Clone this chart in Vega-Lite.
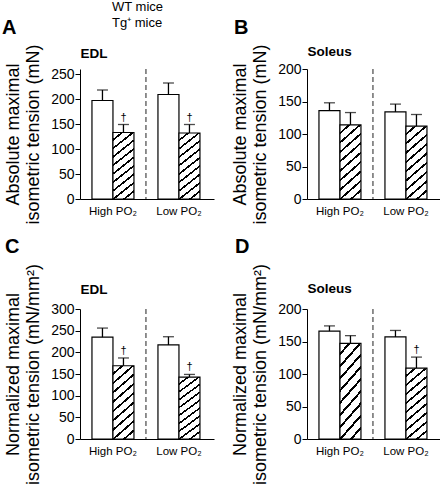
{
  "$schema": "https://vega.github.io/schema/vega-lite/v6.json",
  "padding": {"left": 2, "top": 0, "right": 0, "bottom": 0},
  "columns": 2,
  "bounds": "flush",
  "spacing": {"row": 110, "column": 93},
  "data": {"values": [
    {"panel": "A", "cond": "High PO₂", "geno": "WT mice", "value": 197, "err": 218, "sig": ""},
    {"panel": "A", "cond": "High PO₂", "geno": "Tg⁺ mice", "value": 133, "err": 149, "sig": "†"},
    {"panel": "A", "cond": "Low PO₂", "geno": "WT mice", "value": 209, "err": 232, "sig": ""},
    {"panel": "A", "cond": "Low PO₂", "geno": "Tg⁺ mice", "value": 132, "err": 149, "sig": "†"},
    {"panel": "B", "cond": "High PO₂", "geno": "WT mice", "value": 136, "err": 148, "sig": ""},
    {"panel": "B", "cond": "High PO₂", "geno": "Tg⁺ mice", "value": 114, "err": 133, "sig": ""},
    {"panel": "B", "cond": "Low PO₂", "geno": "WT mice", "value": 134, "err": 146, "sig": ""},
    {"panel": "B", "cond": "Low PO₂", "geno": "Tg⁺ mice", "value": 112, "err": 130, "sig": ""},
    {"panel": "C", "cond": "High PO₂", "geno": "WT mice", "value": 235, "err": 256, "sig": ""},
    {"panel": "C", "cond": "High PO₂", "geno": "Tg⁺ mice", "value": 169, "err": 187, "sig": "†"},
    {"panel": "C", "cond": "Low PO₂", "geno": "WT mice", "value": 217, "err": 236, "sig": ""},
    {"panel": "C", "cond": "Low PO₂", "geno": "Tg⁺ mice", "value": 143, "err": 149, "sig": "†"},
    {"panel": "D", "cond": "High PO₂", "geno": "WT mice", "value": 166, "err": 174, "sig": ""},
    {"panel": "D", "cond": "High PO₂", "geno": "Tg⁺ mice", "value": 147, "err": 159, "sig": ""},
    {"panel": "D", "cond": "Low PO₂", "geno": "WT mice", "value": 157, "err": 167, "sig": ""},
    {"panel": "D", "cond": "Low PO₂", "geno": "Tg⁺ mice", "value": 109, "err": 126, "sig": "†"}
  ]},
  "concat": [
    {
      "title": {"text": "A", "anchor": "start", "frame": "group", "dx": -78, "offset": 6, "fontSize": 20, "fontWeight": "bold"},
      "width": 134, "height": 130,
      "transform": [{"filter": "datum.panel === 'A'"}],
      "resolve": {"axis": {"x": "independent"}},
      "layer": [
        {"data": {"values": [{"line": "separator"}]},
         "mark": {"type": "rule", "strokeDash": [5, 3], "color": "#222", "strokeWidth": 1},
         "encoding": {"x": {"datum": "Low PO₂", "type": "nominal", "bandPosition": -0.2857,
           "axis": {"orient": "top", "domain": false, "ticks": false, "labels": false, "title": "EDL", "titleAnchor": "start", "titleFontSize": 13.5, "titleFontWeight": "bold", "titlePadding": 9}}}},
        {"mark": {"type": "point", "filled": true, "fill": "white", "stroke": "black", "strokeWidth": 1, "size": 30, "yOffset": 25},
         "encoding": {
           "x": {"field": "cond", "type": "nominal", "axis": null},
           "xOffset": {"field": "geno", "type": "nominal"},
           "y": {"field": "value", "type": "quantitative"},
           "shape": {"field": "geno", "type": "nominal", "scale": {"domain": ["WT mice", "Tg⁺ mice"], "range": ["M-3.375,-1L3.375,-1L3.375,1L-3.375,1Z", "M-3.375,-1L3.375,-1L3.375,1L-3.375,1Z M-3.375,0.6L-1.775,-1 M-2.175,1L-0.175,-1 M-0.575,1L1.425,-1 M1.025,1L3.025,-1 M2.625,1L3.375,0.25"]},
             "legend": {"orient": "none", "legendX": 8, "legendY": -68.5, "title": null, "symbolSize": 64, "symbolOpacity": 1, "symbolFillColor": "white", "symbolStrokeColor": "black", "symbolStrokeWidth": 1, "labelFontSize": 13, "labelOffset": 11, "rowPadding": 2, "padding": 0}}
         }},
        {"transform": [{"filter": "datum.geno === 'WT mice'"}],
         "mark": {"type": "bar", "stroke": "black", "strokeWidth": 1.2, "fill": "white"},
         "encoding": {
           "x": {"field": "cond", "type": "nominal", "scale": {"paddingInner": 0.3636, "paddingOuter": 0.197, "align": 0.46}, "axis": {"title": null, "labelAngle": 0, "tickSize": 0, "labelPadding": 6, "labelFontSize": 11.5}},
           "xOffset": {"field": "geno", "type": "nominal", "scale": {"domain": ["WT mice", "Tg⁺ mice"]}},
           "y": {"field": "value", "type": "quantitative", "scale": {"domain": [0, 250]}, "axis": {"title": ["Absolute maximal", "isometric tension (mN)"]}}
         }},
        {"transform": [{"filter": "datum.geno === 'Tg⁺ mice'"}],
         "mark": {"type": "bar", "stroke": "black", "strokeWidth": 1.2, "fill": {"gradient": "linear", "x1": 0, "y1": 0, "x2": 0.3, "y2": 1.2, "stops": [
           {"offset": 0, "color": "white"}, {"offset": 0.075, "color": "white"}, {"offset": 0.075, "color": "black"}, {"offset": 0.1, "color": "black"},
           {"offset": 0.1, "color": "white"}, {"offset": 0.175, "color": "white"}, {"offset": 0.175, "color": "black"}, {"offset": 0.2, "color": "black"},
           {"offset": 0.2, "color": "white"}, {"offset": 0.275, "color": "white"}, {"offset": 0.275, "color": "black"}, {"offset": 0.3, "color": "black"},
           {"offset": 0.3, "color": "white"}, {"offset": 0.375, "color": "white"}, {"offset": 0.375, "color": "black"}, {"offset": 0.4, "color": "black"},
           {"offset": 0.4, "color": "white"}, {"offset": 0.475, "color": "white"}, {"offset": 0.475, "color": "black"}, {"offset": 0.5, "color": "black"},
           {"offset": 0.5, "color": "white"}, {"offset": 0.575, "color": "white"}, {"offset": 0.575, "color": "black"}, {"offset": 0.6, "color": "black"},
           {"offset": 0.6, "color": "white"}, {"offset": 0.675, "color": "white"}, {"offset": 0.675, "color": "black"}, {"offset": 0.7, "color": "black"},
           {"offset": 0.7, "color": "white"}, {"offset": 0.775, "color": "white"}, {"offset": 0.775, "color": "black"}, {"offset": 0.8, "color": "black"},
           {"offset": 0.8, "color": "white"}, {"offset": 0.875, "color": "white"}, {"offset": 0.875, "color": "black"}, {"offset": 0.9, "color": "black"},
           {"offset": 0.9, "color": "white"}, {"offset": 0.975, "color": "white"}, {"offset": 0.975, "color": "black"}, {"offset": 1, "color": "black"}]}},
         "encoding": {
           "x": {"field": "cond", "type": "nominal", "axis": null},
           "xOffset": {"field": "geno", "type": "nominal", "scale": {"domain": ["WT mice", "Tg⁺ mice"]}},
           "y": {"field": "value", "type": "quantitative"}
         }},
        {"mark": {"type": "rule", "strokeWidth": 1.3, "color": "black"},
         "encoding": {"x": {"field": "cond", "type": "nominal", "axis": null}, "xOffset": {"field": "geno", "type": "nominal"}, "y": {"field": "value", "type": "quantitative"}, "y2": {"field": "err"}}},
        {"mark": {"type": "tick", "thickness": 1.3, "size": 11, "color": "black"},
         "encoding": {"x": {"field": "cond", "type": "nominal", "axis": null}, "xOffset": {"field": "geno", "type": "nominal"}, "y": {"field": "err", "type": "quantitative"}}},
        {"mark": {"type": "text", "fontSize": 11, "baseline": "alphabetic", "dy": -4, "color": "black"},
         "encoding": {"x": {"field": "cond", "type": "nominal", "axis": null}, "xOffset": {"field": "geno", "type": "nominal"}, "y": {"field": "err", "type": "quantitative"}, "text": {"field": "sig"}}}
      ]
    },
    {
      "title": {"text": "B", "anchor": "start", "frame": "group", "dx": -73, "offset": 6, "fontSize": 20, "fontWeight": "bold"},
      "width": 134, "height": 130,
      "transform": [{"filter": "datum.panel === 'B'"}],
      "resolve": {"axis": {"x": "independent"}},
      "layer": [
        {"data": {"values": [{"line": "separator"}]},
         "mark": {"type": "rule", "strokeDash": [5, 3], "color": "#222", "strokeWidth": 1},
         "encoding": {"x": {"datum": "Low PO₂", "type": "nominal", "bandPosition": -0.2857,
           "axis": {"orient": "top", "domain": false, "ticks": false, "labels": false, "title": "Soleus", "titleAnchor": "start", "titleFontSize": 13.5, "titleFontWeight": "bold", "titlePadding": 11}}}},
        {"transform": [{"filter": "datum.geno === 'WT mice'"}],
         "mark": {"type": "bar", "stroke": "black", "strokeWidth": 1.2, "fill": "white"},
         "encoding": {
           "x": {"field": "cond", "type": "nominal", "scale": {"paddingInner": 0.3636, "paddingOuter": 0.197, "align": 0.46}, "axis": {"title": null, "labelAngle": 0, "tickSize": 0, "labelPadding": 6, "labelFontSize": 11.5}},
           "xOffset": {"field": "geno", "type": "nominal", "scale": {"domain": ["WT mice", "Tg⁺ mice"]}},
           "y": {"field": "value", "type": "quantitative", "scale": {"domain": [0, 200]}, "axis": {"title": ["Absolute maximal", "isometric tension (mN)"]}}
         }},
        {"transform": [{"filter": "datum.geno === 'Tg⁺ mice'"}],
         "mark": {"type": "bar", "stroke": "black", "strokeWidth": 1.2, "fill": {"gradient": "linear", "x1": 0, "y1": 0, "x2": 0.3, "y2": 1.2, "stops": [
           {"offset": 0, "color": "white"}, {"offset": 0.075, "color": "white"}, {"offset": 0.075, "color": "black"}, {"offset": 0.1, "color": "black"},
           {"offset": 0.1, "color": "white"}, {"offset": 0.175, "color": "white"}, {"offset": 0.175, "color": "black"}, {"offset": 0.2, "color": "black"},
           {"offset": 0.2, "color": "white"}, {"offset": 0.275, "color": "white"}, {"offset": 0.275, "color": "black"}, {"offset": 0.3, "color": "black"},
           {"offset": 0.3, "color": "white"}, {"offset": 0.375, "color": "white"}, {"offset": 0.375, "color": "black"}, {"offset": 0.4, "color": "black"},
           {"offset": 0.4, "color": "white"}, {"offset": 0.475, "color": "white"}, {"offset": 0.475, "color": "black"}, {"offset": 0.5, "color": "black"},
           {"offset": 0.5, "color": "white"}, {"offset": 0.575, "color": "white"}, {"offset": 0.575, "color": "black"}, {"offset": 0.6, "color": "black"},
           {"offset": 0.6, "color": "white"}, {"offset": 0.675, "color": "white"}, {"offset": 0.675, "color": "black"}, {"offset": 0.7, "color": "black"},
           {"offset": 0.7, "color": "white"}, {"offset": 0.775, "color": "white"}, {"offset": 0.775, "color": "black"}, {"offset": 0.8, "color": "black"},
           {"offset": 0.8, "color": "white"}, {"offset": 0.875, "color": "white"}, {"offset": 0.875, "color": "black"}, {"offset": 0.9, "color": "black"},
           {"offset": 0.9, "color": "white"}, {"offset": 0.975, "color": "white"}, {"offset": 0.975, "color": "black"}, {"offset": 1, "color": "black"}]}},
         "encoding": {
           "x": {"field": "cond", "type": "nominal", "axis": null},
           "xOffset": {"field": "geno", "type": "nominal", "scale": {"domain": ["WT mice", "Tg⁺ mice"]}},
           "y": {"field": "value", "type": "quantitative"}
         }},
        {"mark": {"type": "rule", "strokeWidth": 1.3, "color": "black"},
         "encoding": {"x": {"field": "cond", "type": "nominal", "axis": null}, "xOffset": {"field": "geno", "type": "nominal"}, "y": {"field": "value", "type": "quantitative"}, "y2": {"field": "err"}}},
        {"mark": {"type": "tick", "thickness": 1.3, "size": 11, "color": "black"},
         "encoding": {"x": {"field": "cond", "type": "nominal", "axis": null}, "xOffset": {"field": "geno", "type": "nominal"}, "y": {"field": "err", "type": "quantitative"}}},
        {"mark": {"type": "text", "fontSize": 11, "baseline": "alphabetic", "dy": -4, "color": "black"},
         "encoding": {"x": {"field": "cond", "type": "nominal", "axis": null}, "xOffset": {"field": "geno", "type": "nominal"}, "y": {"field": "err", "type": "quantitative"}, "text": {"field": "sig"}}}
      ]
    },
    {
      "title": {"text": "C", "anchor": "start", "frame": "group", "dx": -75, "offset": 6, "fontSize": 20, "fontWeight": "bold"},
      "width": 134, "height": 130,
      "transform": [{"filter": "datum.panel === 'C'"}],
      "resolve": {"axis": {"x": "independent"}},
      "layer": [
        {"data": {"values": [{"line": "separator"}]},
         "mark": {"type": "rule", "strokeDash": [5, 3], "color": "#222", "strokeWidth": 1},
         "encoding": {"x": {"datum": "Low PO₂", "type": "nominal", "bandPosition": -0.2857,
           "axis": {"orient": "top", "domain": false, "ticks": false, "labels": false, "title": "EDL", "titleAnchor": "start", "titleFontSize": 13.5, "titleFontWeight": "bold", "titlePadding": 13}}}},
        {"transform": [{"filter": "datum.geno === 'WT mice'"}],
         "mark": {"type": "bar", "stroke": "black", "strokeWidth": 1.2, "fill": "white"},
         "encoding": {
           "x": {"field": "cond", "type": "nominal", "scale": {"paddingInner": 0.3636, "paddingOuter": 0.197, "align": 0.46}, "axis": {"title": null, "labelAngle": 0, "tickSize": 0, "labelPadding": 6, "labelFontSize": 11.5}},
           "xOffset": {"field": "geno", "type": "nominal", "scale": {"domain": ["WT mice", "Tg⁺ mice"]}},
           "y": {"field": "value", "type": "quantitative", "scale": {"domain": [0, 300]}, "axis": {"title": ["Normalized maximal", "isometric tension (mN/mm²)"]}}
         }},
        {"transform": [{"filter": "datum.geno === 'Tg⁺ mice'"}],
         "mark": {"type": "bar", "stroke": "black", "strokeWidth": 1.2, "fill": {"gradient": "linear", "x1": 0, "y1": 0, "x2": 0.3, "y2": 1.2, "stops": [
           {"offset": 0, "color": "white"}, {"offset": 0.075, "color": "white"}, {"offset": 0.075, "color": "black"}, {"offset": 0.1, "color": "black"},
           {"offset": 0.1, "color": "white"}, {"offset": 0.175, "color": "white"}, {"offset": 0.175, "color": "black"}, {"offset": 0.2, "color": "black"},
           {"offset": 0.2, "color": "white"}, {"offset": 0.275, "color": "white"}, {"offset": 0.275, "color": "black"}, {"offset": 0.3, "color": "black"},
           {"offset": 0.3, "color": "white"}, {"offset": 0.375, "color": "white"}, {"offset": 0.375, "color": "black"}, {"offset": 0.4, "color": "black"},
           {"offset": 0.4, "color": "white"}, {"offset": 0.475, "color": "white"}, {"offset": 0.475, "color": "black"}, {"offset": 0.5, "color": "black"},
           {"offset": 0.5, "color": "white"}, {"offset": 0.575, "color": "white"}, {"offset": 0.575, "color": "black"}, {"offset": 0.6, "color": "black"},
           {"offset": 0.6, "color": "white"}, {"offset": 0.675, "color": "white"}, {"offset": 0.675, "color": "black"}, {"offset": 0.7, "color": "black"},
           {"offset": 0.7, "color": "white"}, {"offset": 0.775, "color": "white"}, {"offset": 0.775, "color": "black"}, {"offset": 0.8, "color": "black"},
           {"offset": 0.8, "color": "white"}, {"offset": 0.875, "color": "white"}, {"offset": 0.875, "color": "black"}, {"offset": 0.9, "color": "black"},
           {"offset": 0.9, "color": "white"}, {"offset": 0.975, "color": "white"}, {"offset": 0.975, "color": "black"}, {"offset": 1, "color": "black"}]}},
         "encoding": {
           "x": {"field": "cond", "type": "nominal", "axis": null},
           "xOffset": {"field": "geno", "type": "nominal", "scale": {"domain": ["WT mice", "Tg⁺ mice"]}},
           "y": {"field": "value", "type": "quantitative"}
         }},
        {"mark": {"type": "rule", "strokeWidth": 1.3, "color": "black"},
         "encoding": {"x": {"field": "cond", "type": "nominal", "axis": null}, "xOffset": {"field": "geno", "type": "nominal"}, "y": {"field": "value", "type": "quantitative"}, "y2": {"field": "err"}}},
        {"mark": {"type": "tick", "thickness": 1.3, "size": 11, "color": "black"},
         "encoding": {"x": {"field": "cond", "type": "nominal", "axis": null}, "xOffset": {"field": "geno", "type": "nominal"}, "y": {"field": "err", "type": "quantitative"}}},
        {"mark": {"type": "text", "fontSize": 11, "baseline": "alphabetic", "dy": -4, "color": "black"},
         "encoding": {"x": {"field": "cond", "type": "nominal", "axis": null}, "xOffset": {"field": "geno", "type": "nominal"}, "y": {"field": "err", "type": "quantitative"}, "text": {"field": "sig"}}}
      ]
    },
    {
      "title": {"text": "D", "anchor": "start", "frame": "group", "dx": -72, "offset": 6, "fontSize": 20, "fontWeight": "bold"},
      "width": 134, "height": 130,
      "transform": [{"filter": "datum.panel === 'D'"}],
      "resolve": {"axis": {"x": "independent"}},
      "layer": [
        {"data": {"values": [{"line": "separator"}]},
         "mark": {"type": "rule", "strokeDash": [5, 3], "color": "#222", "strokeWidth": 1},
         "encoding": {"x": {"datum": "Low PO₂", "type": "nominal", "bandPosition": -0.2857,
           "axis": {"orient": "top", "domain": false, "ticks": false, "labels": false, "title": "Soleus", "titleAnchor": "start", "titleFontSize": 13.5, "titleFontWeight": "bold", "titlePadding": 14}}}},
        {"transform": [{"filter": "datum.geno === 'WT mice'"}],
         "mark": {"type": "bar", "stroke": "black", "strokeWidth": 1.2, "fill": "white"},
         "encoding": {
           "x": {"field": "cond", "type": "nominal", "scale": {"paddingInner": 0.3636, "paddingOuter": 0.197, "align": 0.46}, "axis": {"title": null, "labelAngle": 0, "tickSize": 0, "labelPadding": 6, "labelFontSize": 11.5}},
           "xOffset": {"field": "geno", "type": "nominal", "scale": {"domain": ["WT mice", "Tg⁺ mice"]}},
           "y": {"field": "value", "type": "quantitative", "scale": {"domain": [0, 200]}, "axis": {"title": ["Normalized maximal", "isometric tension (mN/mm²)"]}}
         }},
        {"transform": [{"filter": "datum.geno === 'Tg⁺ mice'"}],
         "mark": {"type": "bar", "stroke": "black", "strokeWidth": 1.2, "fill": {"gradient": "linear", "x1": 0, "y1": 0, "x2": 0.3, "y2": 1.2, "stops": [
           {"offset": 0, "color": "white"}, {"offset": 0.075, "color": "white"}, {"offset": 0.075, "color": "black"}, {"offset": 0.1, "color": "black"},
           {"offset": 0.1, "color": "white"}, {"offset": 0.175, "color": "white"}, {"offset": 0.175, "color": "black"}, {"offset": 0.2, "color": "black"},
           {"offset": 0.2, "color": "white"}, {"offset": 0.275, "color": "white"}, {"offset": 0.275, "color": "black"}, {"offset": 0.3, "color": "black"},
           {"offset": 0.3, "color": "white"}, {"offset": 0.375, "color": "white"}, {"offset": 0.375, "color": "black"}, {"offset": 0.4, "color": "black"},
           {"offset": 0.4, "color": "white"}, {"offset": 0.475, "color": "white"}, {"offset": 0.475, "color": "black"}, {"offset": 0.5, "color": "black"},
           {"offset": 0.5, "color": "white"}, {"offset": 0.575, "color": "white"}, {"offset": 0.575, "color": "black"}, {"offset": 0.6, "color": "black"},
           {"offset": 0.6, "color": "white"}, {"offset": 0.675, "color": "white"}, {"offset": 0.675, "color": "black"}, {"offset": 0.7, "color": "black"},
           {"offset": 0.7, "color": "white"}, {"offset": 0.775, "color": "white"}, {"offset": 0.775, "color": "black"}, {"offset": 0.8, "color": "black"},
           {"offset": 0.8, "color": "white"}, {"offset": 0.875, "color": "white"}, {"offset": 0.875, "color": "black"}, {"offset": 0.9, "color": "black"},
           {"offset": 0.9, "color": "white"}, {"offset": 0.975, "color": "white"}, {"offset": 0.975, "color": "black"}, {"offset": 1, "color": "black"}]}},
         "encoding": {
           "x": {"field": "cond", "type": "nominal", "axis": null},
           "xOffset": {"field": "geno", "type": "nominal", "scale": {"domain": ["WT mice", "Tg⁺ mice"]}},
           "y": {"field": "value", "type": "quantitative"}
         }},
        {"mark": {"type": "rule", "strokeWidth": 1.3, "color": "black"},
         "encoding": {"x": {"field": "cond", "type": "nominal", "axis": null}, "xOffset": {"field": "geno", "type": "nominal"}, "y": {"field": "value", "type": "quantitative"}, "y2": {"field": "err"}}},
        {"mark": {"type": "tick", "thickness": 1.3, "size": 11, "color": "black"},
         "encoding": {"x": {"field": "cond", "type": "nominal", "axis": null}, "xOffset": {"field": "geno", "type": "nominal"}, "y": {"field": "err", "type": "quantitative"}}},
        {"mark": {"type": "text", "fontSize": 11, "baseline": "alphabetic", "dy": -4, "color": "black"},
         "encoding": {"x": {"field": "cond", "type": "nominal", "axis": null}, "xOffset": {"field": "geno", "type": "nominal"}, "y": {"field": "err", "type": "quantitative"}, "text": {"field": "sig"}}}
      ]
    }
  ],
  "config": {
    "font": "Liberation Sans",
    "view": {"stroke": null},
    "axis": {"domainColor": "black", "tickColor": "black", "labelColor": "black", "titleColor": "black", "grid": false, "domainWidth": 1, "tickWidth": 1},
    "axisY": {"tickSize": 5, "tickCount": 6, "labelOverlap": false, "labelPadding": 1, "labelFontSize": 14, "titleFontSize": 18, "titleLineHeight": 20, "titlePadding": 8, "titleFontWeight": "normal"},
    "legend": {"labelColor": "black"}
  }
}
